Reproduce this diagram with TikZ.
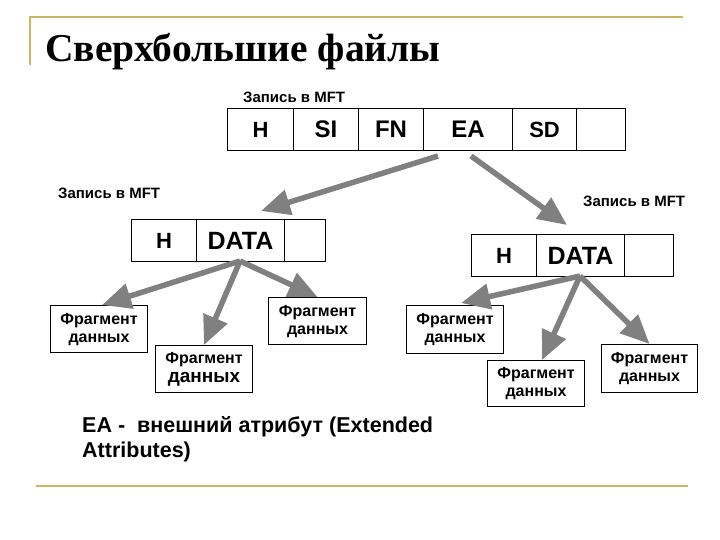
\documentclass[tikz,border=0pt]{standalone}
\usepackage{fontspec}
\setmainfont{Liberation Serif}
\newfontfamily\lsans{Liberation Sans}
\usetikzlibrary{arrows.meta}
\definecolor{gold}{RGB}{200,182,98}
\definecolor{arrgray}{RGB}{128,128,128}
\begin{document}
\begin{tikzpicture}[x=1pt,y=-1pt,
  cell/.style={draw=black,line width=1.1pt,minimum height=42pt,inner sep=0pt,anchor=north west,font=\lsans\bfseries\fontsize{24}{26}\selectfont},
  frag/.style={draw=black,line width=1.1pt,inner sep=0pt,anchor=north west,align=center,font=\lsans\bfseries\fontsize{16}{18}\selectfont},
  lbl/.style={anchor=base west,inner sep=0pt,font=\lsans\bfseries\fontsize{15}{17}\selectfont},
  bigarrow/.style={draw=arrgray,line width=5.5pt,-{Triangle[length=29pt,width=25pt]}},
  goldline/.style={draw=gold,line width=2pt}]
\useasboundingbox[fill=white] (0,0) rectangle (720,540);
% decorative lines
\coordinate (g1) at (30,65);
\coordinate (g2) at (30,17);
\coordinate (g3) at (683,17);
\coordinate (g4) at (36,486);
\coordinate (g5) at (688,486);
\draw[goldline] (g1) -- (g2) -- (g3);
\draw[goldline] (g4) -- (g5);
% title
\node[anchor=base west,inner sep=0pt,font=\bfseries\fontsize{39.5}{44}\selectfont] (title) at (45,62) {Сверхбольшие файлы};
% top record
\node[lbl] (lt) at (243,103) {Запись в MFT};
\node[cell,minimum width=66pt,font=\lsans\bfseries\fontsize{22}{24}\selectfont] (th) at (227,108) {H};
\node[cell,minimum width=65pt] (tsi) at (293,108) {SI};
\node[cell,minimum width=65pt] (tfn) at (358,108) {FN};
\node[cell,minimum width=89pt] (tea) at (423,108) {EA};
\node[cell,minimum width=64pt,font=\lsans\bfseries\fontsize{22}{24}\selectfont] (tsd) at (512,108) {SD};
\node[cell,minimum width=49pt] (te) at (576,108) {};
% left record
\node[lbl] (ll) at (58,199) {Запись в MFT};
\node[cell,minimum width=65pt,font=\lsans\bfseries\fontsize{22}{24}\selectfont] (lh) at (131,219) {H};
\node[cell,minimum width=88pt,font=\lsans\bfseries\fontsize{25}{27}\selectfont] (ld) at (196,219) {DATA};
\node[cell,minimum width=41pt] (le) at (284,219) {};
% right record
\node[lbl] (lr) at (583,207) {Запись в MFT};
\node[cell,minimum width=65pt,font=\lsans\bfseries\fontsize{22}{24}\selectfont] (rh) at (471,234) {H};
\node[cell,minimum width=88pt,font=\lsans\bfseries\fontsize{25}{27}\selectfont] (rd) at (536,234) {DATA};
\node[cell,minimum width=49pt] (re) at (624,234) {};
% fragments left
\node[frag,minimum width=97pt,minimum height=47pt] (f1) at (50,305) {Фрагмент\\данных};
\node[frag,minimum width=97pt,minimum height=47pt] (f2) at (155,345) {Фрагмент\\[1pt]{\fontsize{19}{21}\selectfont данных}};
\node[frag,minimum width=98pt,minimum height=47pt] (f3) at (268,297) {Фрагмент\\данных};
% fragments right
\node[frag,minimum width=97pt,minimum height=48pt] (h1) at (406,305) {Фрагмент\\данных};
\node[frag,minimum width=97pt,minimum height=46pt] (h2) at (487,360) {Фрагмент\\данных};
\node[frag,minimum width=96pt,minimum height=48pt] (h3) at (601,344) {Фрагмент\\данных};
% arrows from top record
\coordinate (s1) at (438,156);
\coordinate (s2) at (471,156);
\coordinate (tl) at (261,211);
\coordinate (tr) at (567,225);
\draw[bigarrow] (s1) -- (tl);
\draw[bigarrow] (s2) -- (tr);
% arrows left record
\coordinate (ol) at (240,261);
\draw[bigarrow] (ol) -- ([xshift=3pt]f1.north);
\draw[bigarrow] (ol) -- (f2.north);
\draw[bigarrow] (ol) -- (f3.north);
% arrows right record
\coordinate (or) at (580,276);
\draw[bigarrow] (or) -- ([xshift=6pt,yshift=2pt]h1.north);
\draw[bigarrow] (or) -- ([xshift=6pt]h2.north);
\draw[bigarrow] (or) -- (h3.north);
% footnote
\node[anchor=base west,inner sep=0pt,align=left,font=\lsans\bfseries\fontsize{21.5}{25}\selectfont] (note) at (82,457) {EA -\ \ внешний атрибут (Extended\\Attributes)};
\end{tikzpicture}
\end{document}
